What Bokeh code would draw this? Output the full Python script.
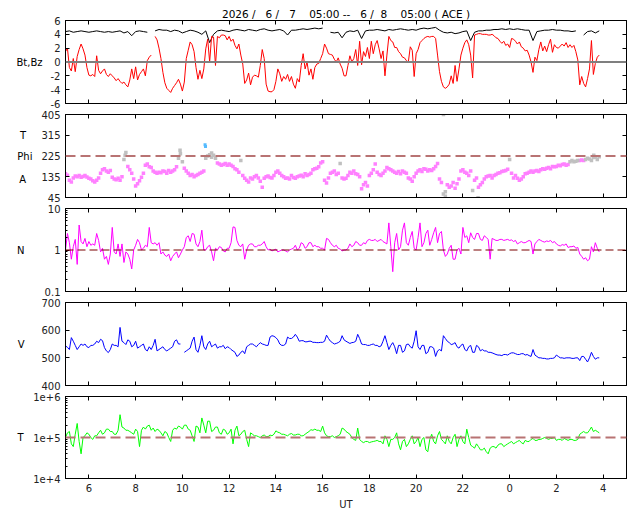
import numpy as np
from bokeh.plotting import figure
from bokeh.models import Range1d, LinearAxis, LogAxis, FixedTicker, Span
from bokeh.layouts import column
from bokeh.embed import file_html
from bokeh.resources import INLINE

FONT = "DejaVu Sans"
NB = "\u00a0"

TITLE = "2026 /   6 /   7    05:00 --   6 /  8    05:00 ( ACE )".replace(" ", NB)
HOUR_TICKS = [6, 8, 10, 12, 14, 16, 18, 20, 22, 24, 26, 28]
HOUR_LABELS = ["6", "8", "10", "12", "14", "16", "18", "20", "22", "0", "2", "4"]
T_START = 5.0
STEP_10MIN = 1.0 / 6.0
STEP_5MIN = 1.0 / 12.0

nan = float("nan")

# Bt (nT), 10-minute values
bt = [4.4, 4.5, 4.3, 4.4, 4.5, 4.4, 4.3, 4.4, 4.5, 4.4,
      4.3, 4.4, 4.3, 4.4, 4.5, 4.2, 4.4, 3.8, 4.4, 4.5, 4.4, 4.3,
      nan,
      4.5, 4.7, 4.6, 4.6, 4.4, 4.6, 4.5, 4.2, 4.4, 4.6, 4.5, 4.3, 4.0, 4.5,
      2.8, 4.0, 4.5, 4.6, 4.5, 4.4, 4.6, 4.7, 4.6, 4.5, 4.7, 4.6, 4.5, 4.7, 4.8, 4.6, 4.5, 4.6, 4.7, 4.5,
      3.9, 4.6, 4.6, 4.7, 4.8, 4.7, 4.8, 4.9, 4.8, 4.9,
      nan,
      4.3, 4.2, 4.3, 3.5, 4.3, 4.5, 4.4, 4.6, 3.4, 4.5, 4.6, 4.6, 4.7, 4.6, 4.5, 4.7, 4.6, 4.7, 4.8, 4.7,
      4.6, 4.7, 4.6, 4.8, 4.9, 4.8, 4.9, 5.0, 4.6, 4.3, 4.2, 4.3, 4.1, 4.2, 4.4, 4.5,
      3.1, 4.3, 4.5, 4.5, 4.6, 4.6, 4.7, 4.7, 4.8, 4.7, 4.8, 4.7, 4.8, 4.7, 4.6, 4.6, 3.1, 4.4, 4.5, 4.6,
      4.6, 4.7, 4.6, 4.6, 4.5, 4.5, 4.4, 4.5,
      nan,
      3.9, 4.4, 4.5, 4.2, 4.5]

# Bz (nT), 5-minute values, one row per hour from 05 UT
bz = [1.5, 2.0, -0.8, -1.3, 0.5, -1.4, 0.8, 1.8, 2.6, 1.9, 1.0, -0.8,
      -1.9, -2.0, -1.8, -2.1, 0.9, -1.2, -1.7, -1.3, -1.0, -1.8, -2.1, -1.7,
      -2.0, -2.3, -2.7, -2.4, -2.8, -3.1, -2.9, -3.3, -3.6, -2.6, -1.0, -2.4,
      -0.7, -2.6, -1.8, -1.4, -1.0, -2.0, 0.2, 0.7, 1.0, nan, 3.7, 3.2,
      2.0, 0.5, -1.5, -3.0, -3.8, -4.1, -4.4, -3.8, -3.4, -3.0, -2.5, -3.2,
      -4.2, -2.9, 0.5, 1.7, 2.9, 2.5, 1.5, -0.8, -2.5, -1.2, -2.4, -1.0,
      1.9, 3.3, 0.0, 3.7, 3.6, -0.5, 3.7, 3.5, 3.9, 3.9, 3.8, 3.2,
      3.7, 3.0, 3.3, 2.4, 1.9, 2.6, 1.0, -0.3, -3.1, -2.6, -1.6, -3.3,
      -2.2, -1.9, -2.0, -2.2, -0.5, 1.8, 0.5, -3.2, -4.2, -4.3, -4.3, -4.0,
      -2.8, -1.0, -1.7, -2.8, -2.1, -2.5, -1.8, -2.8, -2.1, -3.2, -3.8, -2.4,
      -2.9, -0.5, 1.2, -1.0, 0.0, -1.9, -1.0, -2.5, -0.8, -0.3, -0.2, 0.5,
      1.2, 2.6, 2.0, 1.2, 1.1, 1.0, 0.4, 0.0, 0.6, -0.3, -0.9, -2.0,
      -2.0, -0.5, 0.9, 0.0, 0.5, 1.8, -0.5, 3.0, -0.4, 1.5, 0.8, 2.1,
      0.5, 3.0, 1.2, 2.5, 3.1, 1.9, 0.5, 1.6, -2.0, 1.0, 3.7, 3.1,
      2.9, 2.1, 2.1, 1.5, 1.2, 0.7, 0.6, 0.2, 0.0, 2.2, 1.7, -2.1,
      1.2, 1.8, 2.8, 3.1, 3.4, 3.6, 3.7, 3.6, 3.7, 3.7, 3.4, 1.0,
      -1.4, -2.8, -3.6, -3.8, -3.6, -3.2, -2.0, -3.1, -0.5, -2.8, -1.0, 1.0,
      2.0, 2.8, 3.2, 2.5, 1.0, -2.3, 3.9, 4.0, 4.1, 4.1, 4.0, 4.0,
      4.0, 3.9, 3.9, 4.0, 3.8, 3.5, 3.4, 3.0, 2.7, 3.0, 2.4, 2.6,
      2.1, 3.4, 3.3, 3.0, 2.6, 2.9, 2.2, 2.0, 1.6, 1.7, 1.0, 0.0,
      -1.5, 0.7, 0.2, 1.8, 2.9, 1.6, 2.3, 1.5, 2.5, 3.3, 1.4, 2.5,
      2.1, 2.0, 2.3, 2.6, 2.3, 2.8, 2.1, 2.5, 2.1, 2.4, 1.5, 0.3,
      -3.3, -2.1, -3.1, -3.6, -2.4, -1.0, 3.1, -1.8, -0.2, 0.7, 1.0]

# Phi angle (deg), 5-minute values
phi_deg = [148, 142, 120, 112, 130, 138, 135, 140, 133, 136, 140, 134,
           128, 125, 118, 112, 120, 130, 150, 165, 170, 160, 155, 162,
           133, 125, 122, 128, 120, 135, 210, 240, 180, 165, 150, 125,
           95, 105, 118, 133, 150, 185, 190, 178, 175, 160, 155, 150,
           155, 152, 160, 158, 150, 162, 155, 160, 165, 178, 215, 235,
           200, 172, 160, 150, 140, 145, 135, 140, 145, 150, 155, 160,
           215, 225, 230, 220, 228, 215, 195, 190, 185, 188, 192, 185,
           190, 185, 180, 170, 165, 155, 206, 140, 128, 120, 112, 130,
           125, 135, 140, 130, 115, 90, 128, 135, 138, 132, 130, 140,
           155, 160, 150, 140, 135, 128, 130, 125, 140, 132, 128, 135,
           138, 142, 135, 148, 140, 145, 150, 165, 170, 172, 178, 195,
           200, 120, 108, 130, 150, 155, 160, 145, 150, 192, 130, 125,
           128, 140, 155, 150, 160, 148, 145, 135, 83, 100, 110, 95,
           140, 150, 165, 190, 155, 145, 140, 150, 160, 175, 170, 165,
           160, 155, 150, 158, 148, 160, 155, 150, 130, 125, 115, 135,
           150, 160, 165, 158, 170, 168, 160, 165, 162, 170, 180, 192,
           125, 110, 60, 70, 100, 90, 95, 110, 85, 105, 125, 160,
           165, 155, 150, 140, 160, 75, 120, 130, 90, 100, 110, 125,
           135, 138, 140, 130, 140, 145, 150, 152, 158, 160, 162, 168,
           210, 150, 130, 140, 128, 120, 125, 135, 148, 150, 155, 160,
           155, 160, 162, 158, 165, 170, 168, 172, 175, 170, 180, 178,
           180, 185, 183, 188, 190, 185, 188, 200, 205, 200, 202, 206,
           205, 208, 206, 210, 215, 212, 205, 218, 220, 210, 222]
phi_gray_idx = [30, 31, 58, 59, 60, 72, 73, 74, 75, 76, 77, 90, 141, 194, 195, 209, 228,
                259, 260, 261, 262, 263, 267, 268, 269, 270, 271, 272, 273, 274]
extra_gray_t = [7.55, 9.9, 11.25, 21.17, 21.25, 22.65, 27.6]
extra_gray_v = [228, 250, 238, 405, 50, 44, 228]
blue_t = [10.97, 10.99]
blue_v = [274, 266]

# Density (cm^-3), 5-minute values
dens = [1.0, 2.5, 1.5, 0.6, 1.2, 1.8, 0.45, 4.0, 1.6, 1.4, 1.9, 1.2,
        1.6, 1.3, 1.4, 1.3, 2.5, 1.7, 0.9, 1.1, 0.6, 0.7, 0.45, 0.8,
        3.5, 0.9, 0.8, 1.4, 0.7, 1.4, 0.5, 0.9, 0.8, 0.6, 0.35, 1.0,
        1.3, 1.8, 1.5, 1.0, 1.1, 1.3, 1.2, 3.5, 1.5, 1.4, 1.5, 1.3,
        1.5, 0.8, 0.9, 0.75, 0.7, 0.8, 0.55, 0.7, 0.8, 0.9, 0.65, 0.8,
        1.0, 1.2, 2.0, 2.2, 1.6, 2.5, 2.4, 1.4, 1.2, 1.6, 3.0, 1.0,
        1.0, 1.2, 1.3, 0.9, 0.55, 1.1, 1.0, 1.2, 1.15, 0.95, 0.9, 1.1,
        1.1, 1.5, 3.6, 3.5, 1.7, 1.3, 1.2, 1.4, 0.6, 1.0, 1.3, 1.4,
        1.4, 1.2, 1.2, 1.3, 1.3, 1.4, 1.6, 1.2, 1.0, 1.05, 0.95, 1.0,
        1.05, 0.9, 0.95, 1.0, 1.0, 0.95, 0.9, 1.0, 1.05, 1.1, 1.3, 1.0,
        1.1, 1.5, 1.4, 1.1, 1.2, 1.5, 1.5, 1.2, 1.3, 1.2, 1.2, 1.1,
        1.1, 1.0, 1.9, 1.8, 1.5, 1.3, 1.2, 1.3, 1.1, 1.05, 0.95, 1.0,
        1.0, 1.1, 1.4, 1.2, 1.3, 1.6, 1.5, 1.3, 1.3, 1.5, 1.4, 1.7,
        1.8, 1.7, 1.7, 1.8, 1.6, 1.7, 1.8, 1.6, 1.5, 1.4, 4.5, 1.2,
        0.3, 1.5, 2.5, 1.0, 1.2, 3.0, 4.5, 1.5, 1.3, 2.0, 2.8, 1.1,
        1.0, 2.0, 4.5, 1.2, 1.5, 2.5, 3.0, 1.3, 1.8, 2.6, 3.5, 1.5,
        2.5, 2.8, 1.0, 0.7, 0.8, 1.1, 1.3, 0.6, 0.6, 1.0, 1.1, 0.8,
        3.5, 2.0, 2.2, 1.5, 2.6, 2.0, 1.8, 2.5, 2.5, 1.8, 1.7, 2.2,
        2.0, 1.8, 0.6, 1.9, 1.8, 1.7, 1.7, 1.8, 1.8, 1.7, 1.75, 1.8,
        1.7, 1.75, 1.6, 1.7, 1.4, 1.5, 1.6, 1.5, 1.5, 1.6, 1.7, 1.6,
        0.8, 1.4, 1.6, 1.8, 1.7, 1.6, 1.55, 1.65, 1.6, 1.7, 1.5, 1.6,
        1.4, 1.3, 1.25, 1.35, 1.3, 1.4, 1.15, 1.2, 1.2, 1.25, 1.1, 1.15,
        0.8, 0.7, 0.6, 0.65, 0.55, 0.6, 1.2, 0.9, 1.5, 1.1, 0.9]

# Speed (km/s), 5-minute values
speed = [543, 538, 530, 573, 560, 545, 530, 540, 550, 545, 550, 540,
         537, 545, 545, 550, 560, 555, 567, 562, 537, 525, 519, 530,
         550, 545, 545, 540, 610, 560, 555, 548, 565, 560, 540, 545,
         560, 535, 540, 545, 550, 530, 525, 540, 530, 545, 567, 525,
         530, 535, 540, 530, 525, 530, 535, 540, 560, 565, 550, 550,
         nan, 520, 525, 530, 535, 560, 575, 530, 520, 545, 580, 540,
         530, 550, 560, 540, 545, 550, 535, 540, 540, 545, 533, 540,
         537, 530, 525, 520, 505, 510, 520, 525, 515, 540, 545, 550,
         550, 545, 540, 548, 555, 550, 548, 545, 545, 575, 580, 578,
         573, 565, 550, 545, 545, 550, 575, 570, 570, 575, 585, 575,
         560, 562, 562, 558, 558, 560, 560, 556, 556, 555, 555, 556,
         556, 560, 582, 570, 560, 555, 550, 552, 555, 560, 580, 565,
         560, 556, 552, 555, 556, 560, 585, 570, 550, 548, 548, 545,
         545, 548, 550, 545, 545, 540, 543, 560, 580, 555, 530, 545,
         555, 540, 515, 545, 545, 520, 525, 548, 550, 540, 535, 560,
         598, 540, 530, 545, 545, 515, 520, 540, 540, 535, 505, 525,
         530, 525, 580, 570, 560, 555, 548, 550, 555, 540, 535, 545,
         550, 530, 525, 540, 545, 520, 520, 545, 540, 525, 530, 525,
         525, 520, 520, 518, 515, 512, 510, 510, 508, 512, 512, 510,
         515, 518, 518, 515, 512, 512, 515, 515, 510, 512, 508, 505,
         530, 510, 505, 500, 500, 498, 498, 496, 496, 498, 498, 500,
         510, 505, 500, 500, 498, 500, 500, 500, 498, 498, 500, 500,
         490, 505, 505, 495, 485, 500, 520, 505, 495, 500, 500]

# Temperature in units of 1e5 K, 5-minute values
temp_1e5 = [1.0, 1.3, 1.4, 0.7, 0.6, 1.2, 2.2, 0.8, 0.4, 1.0, 1.1, 1.3,
            1.2, 1.0, 0.9, 1.1, 1.1, 1.3, 1.5, 1.2, 1.3, 1.6, 1.6, 1.4,
            1.4, 1.2, 1.2, 1.5, 3.6, 1.8, 1.7, 1.5, 1.5, 1.4, 1.3, 1.2,
            1.6, 1.4, 0.6, 1.5, 1.8, 1.6, 1.9, 2.0, 1.5, 1.7, 1.4, 1.6,
            1.5, 1.3, 1.1, 1.4, 1.3, 1.0, 0.8, 1.5, 1.7, 1.6, 1.9, 1.8,
            1.6, 2.0, 2.0, 1.6, 1.5, 1.1, 0.8, 1.9, 1.8, 1.3, 3.0, 2.0,
            1.3, 2.5, 2.5, 1.4, 1.5, 1.8, 1.8, 1.3, 1.2, 1.6, 1.5, 1.2,
            1.3, 1.6, 0.7, 1.5, 1.9, 1.1, 1.2, 1.4, 1.5, 0.9, 0.6, 1.3,
            1.2, 1.1, 1.1, 1.05, 1.0, 1.1, 1.15, 1.05, 1.05, 1.15, 1.1, 1.2,
            1.45, 1.35, 1.3, 1.2, 1.2, 1.15, 1.1, 1.2, 1.25, 1.15, 1.15, 1.2,
            1.2, 1.1, 1.1, 1.2, 1.3, 1.4, 1.55, 1.5, 1.6, 1.5, 1.5, 1.4,
            1.9, 1.3, 1.1, 1.05, 1.05, 1.1, 1.0, 1.05, 1.1, 1.2, 1.7, 1.6,
            1.4, 1.3, 1.2, 1.0, 0.9, 0.85, 1.7, 0.9, 0.8, 0.75, 0.8, 0.8,
            0.75, 0.78, 0.8, 0.82, 0.85, 0.8, 0.8, 0.7, 1.1, 0.9, 0.6, 0.9,
            0.9, 1.0, 1.3, 0.7, 0.5, 0.8, 0.9, 0.6, 0.7, 0.9, 1.1, 0.7,
            0.8, 1.0, 0.6, 0.9, 1.0, 0.5, 0.45, 0.9, 1.2, 0.8, 0.7, 1.1,
            1.4, 0.9, 0.8, 0.7, 1.1, 0.8, 0.7, 1.0, 1.2, 0.6, 0.9, 1.1,
            0.8, 0.7, 1.6, 1.0, 0.65, 0.6, 0.55, 0.7, 0.6, 0.5, 0.5, 0.55,
            0.45, 0.4, 0.55, 0.6, 0.6, 0.55, 0.65, 0.7, 0.7, 0.6, 0.65, 0.7,
            0.75, 0.8, 0.7, 0.75, 0.8, 0.85, 0.75, 0.7, 0.85, 0.8, 0.8, 0.9,
            0.95, 0.85, 0.85, 0.9, 0.9, 0.95, 1.0, 0.95, 0.9, 0.95, 0.95, 1.0,
            0.85, 0.9, 0.9, 0.85, 0.95, 0.9, 0.85, 0.9, 0.9, 0.85, 0.85, 0.9,
            1.2, 1.3, 1.4, 1.3, 1.3, 1.5, 1.8, 1.4, 1.5, 1.4, 1.3]
T_UNIT = 1e5

BZ_REF = 0.0
PHI_REF = 225
N_REF = 1.0
T_REF = 1e5


def times(series, step):
    return T_START + np.arange(len(series)) * step


phi_arr = np.array(phi_deg, dtype=float)
t_phi = times(phi_deg, STEP_5MIN)
gray_mask = np.zeros(len(phi_deg), dtype=bool)
gray_mask[phi_gray_idx] = True

LABEL_COLOR = "#222222"
FS = "10px"


def style_axis(ax, show_labels=True, minor=False):
    ax.axis_line_color = "black"
    ax.major_tick_in = 4
    ax.major_tick_out = 0
    ax.major_tick_line_color = "black"
    if minor:
        ax.minor_tick_in = 2
        ax.minor_tick_out = 0
        ax.minor_tick_line_color = "black"
    else:
        ax.minor_tick_line_color = None
    ax.major_label_text_font = FONT
    ax.major_label_text_font_size = FS
    ax.major_label_text_color = LABEL_COLOR
    ax.major_label_standoff = 5
    if not show_labels:
        ax.major_label_text_font_size = "1px"
        ax.major_label_text_color = None
        ax.major_label_standoff = 0


def make_fig(height, top, bottom, y_range, y_type, yticks, ylabels, yminor=None, xlabels=False):
    p = figure(width=632, height=height, x_range=Range1d(5, 29), y_range=y_range,
               y_axis_type=y_type, output_backend="svg", toolbar_location=None,
               min_border_left=65, min_border_right=6, min_border_top=top,
               min_border_bottom=bottom)
    p.grid.visible = False
    p.outline_line_color = "black"
    p.outline_line_alpha = 1.0
    p.outline_line_width = 1
    p.background_fill_color = "white"
    p.border_fill_color = "white"
    xa = p.below[0]
    xa.ticker = FixedTicker(ticks=HOUR_TICKS)
    xa.major_label_overrides = {k: v for k, v in zip(HOUR_TICKS, HOUR_LABELS)}
    style_axis(xa, show_labels=xlabels)
    top_ax = LinearAxis(ticker=FixedTicker(ticks=HOUR_TICKS))
    style_axis(top_ax, show_labels=False)
    p.add_layout(top_ax, "above")
    ya = p.left[0]
    ya.ticker = FixedTicker(ticks=yticks, minor_ticks=yminor or [])
    ya.major_label_overrides = {k: v for k, v in zip(yticks, ylabels)}
    style_axis(ya, show_labels=True, minor=bool(yminor))
    ra = (LogAxis if y_type == "log" else LinearAxis)(ticker=FixedTicker(ticks=yticks))
    style_axis(ra, show_labels=False)
    p.add_layout(ra, "right")
    return p


def name_axis(p, y_type, positions, names, standoff):
    ax = (LogAxis if y_type == "log" else LinearAxis)(ticker=FixedTicker(ticks=positions))
    ax.major_label_overrides = {k: v for k, v in zip(positions, names)}
    ax.axis_line_color = None
    ax.major_tick_line_color = None
    ax.minor_tick_line_color = None
    ax.major_tick_in = 0
    ax.major_tick_out = 0
    ax.major_label_standoff = standoff
    ax.major_label_text_font = FONT
    ax.major_label_text_font_size = FS
    ax.major_label_text_color = "black"
    p.add_layout(ax, "left")


# Panel 1: Bt, Bz
p1 = make_fig(108, 20, 5, Range1d(-6, 6), "linear",
              [-6, -4, -2, 0, 2, 4, 6], ["-6", "-4", "-2", "0", "2", "4", "6"])
p1.title.text = TITLE
p1.title.align = "center"
p1.title.text_font = FONT
p1.title.text_font_size = "10.5px"
p1.title.text_font_style = "normal"
p1.title.text_color = "black"
p1.title.standoff = 2
p1.add_layout(Span(location=BZ_REF, dimension="width", line_color="#7f7f7f", line_width=2))
p1.line(times(bt, STEP_10MIN), bt, line_color="black", line_width=1)
p1.line(times(bz, STEP_5MIN), bz, line_color="#ff0000", line_width=1)
name_axis(p1, "linear", [0], ["Bt,Bz"], 5)

# Panel 2: Phi
p2 = make_fig(94, 6, 5, Range1d(45, 405), "linear",
              [45, 135, 225, 315, 405], ["45", "135", "225", "315", "405"])
p2.add_layout(Span(location=PHI_REF, dimension="width", line_color="#b87373",
                   line_width=2, line_dash="10 5"))
p2.scatter(t_phi[~gray_mask], phi_arr[~gray_mask], size=3.5, marker="square",
           fill_color="#ff80ff", line_color=None)
p2.scatter(t_phi[gray_mask], phi_arr[gray_mask], size=3.5, marker="square",
           fill_color="#c0c0c0", line_color=None)
p2.scatter(extra_gray_t, extra_gray_v, size=3.5, marker="square",
           fill_color="#c0c0c0", line_color=None)
p2.scatter(blue_t, blue_v, size=3, marker="square", fill_color="#55bbff", line_color=None)
name_axis(p2, "linear", [315, 225, 123], ["T" + NB * 2, "Phi", "A" + NB * 2], 6)

# Panel 3: N
n_minor = [0.2, 0.3, 0.4, 0.5, 0.6, 0.7, 0.8, 0.9, 2, 3, 4, 5, 6, 7, 8, 9]
p3 = make_fig(94, 6, 5, Range1d(0.1, 10), "log", [0.1, 1, 10], ["0.1", "1", "10"], yminor=n_minor)
p3.add_layout(Span(location=N_REF, dimension="width", line_color="#7a0000",
                   line_width=1, line_dash="8 4"))
p3.line(times(dens, STEP_5MIN), dens, line_color="#ff00ff", line_width=1)
name_axis(p3, "log", [1], ["N"], 17)

# Panel 4: V
p4 = make_fig(94, 6, 5, Range1d(400, 700), "linear",
              [400, 500, 600, 700], ["400", "500", "600", "700"])
p4.line(times(speed, STEP_5MIN), speed, line_color="#0000ff", line_width=1)
name_axis(p4, "linear", [550], ["V"], 14)

# Panel 5: T
t_minor = [2e4, 3e4, 4e4, 5e4, 6e4, 7e4, 8e4, 9e4, 2e5, 3e5, 4e5, 5e5, 6e5, 7e5, 8e5, 9e5]
p5 = make_fig(122, 6, 33, Range1d(1e4, 1e6), "log", [1e4, 1e5, 1e6],
              ["1e+4", "1e+5", "1e+6"], yminor=t_minor, xlabels=True)
p5.add_layout(Span(location=T_REF, dimension="width", line_color="#b87373",
                   line_width=2, line_dash="10 5"))
p5.line(times(temp_1e5, STEP_5MIN), np.array(temp_1e5) * T_UNIT, line_color="#00ff00", line_width=1)
name_axis(p5, "log", [1e5], ["T"], 7)
bx = p5.below[0]
bx.axis_label = "UT"
bx.axis_label_text_font = FONT
bx.axis_label_text_font_size = FS
bx.axis_label_text_font_style = "normal"
bx.axis_label_text_color = LABEL_COLOR
bx.axis_label_standoff = 4

layout = column(p1, p2, p3, p4, p5, spacing=0)
html = file_html(layout, INLINE)
html = html.replace("<head>", "<head><style>html,body{overflow:hidden;}</style>", 1)
open("out.html", "w").write(html)
